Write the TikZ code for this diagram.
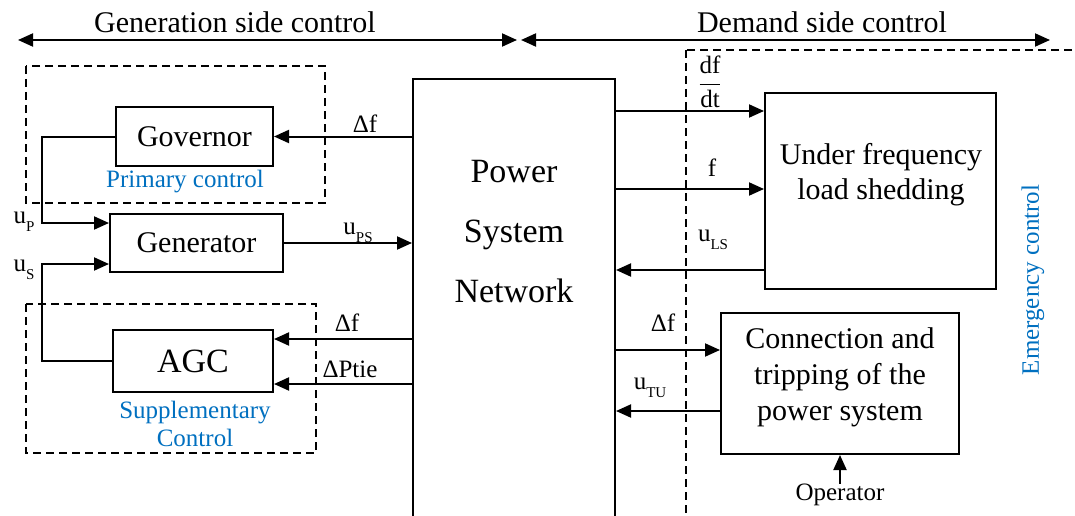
\documentclass[tikz,border=0pt]{standalone}
\usepackage{fontspec}
\setmainfont{Liberation Serif}
\usepackage{amsmath}
\usetikzlibrary{arrows.meta}
\definecolor{ctlblue}{RGB}{0,112,192}
\newcommand\lsub[1]{\raisebox{-0.3em}{\fontsize{15}{15}\selectfont #1}}
\begin{document}
\begin{tikzpicture}[x=1pt,y=-1pt,
  blk/.style={draw,line width=2pt,inner sep=0pt},
  conn/.style={line width=2pt,-{Triangle[length=15pt,width=13pt]}},
  span/.style={line width=2pt,{Triangle[length=15pt,width=13pt]}-{Triangle[length=15pt,width=13pt]}},
  dbox/.style={draw,line width=1.8pt,dash pattern=on 8pt off 5pt},
  lbl/.style={font=\fontsize{25}{30}\selectfont,inner sep=0pt},
  head/.style={font=\fontsize{30}{34}\selectfont,inner sep=0pt},
  big/.style={font=\fontsize{30}{36}\selectfont,align=center,inner sep=0pt},
  bluetxt/.style={text=ctlblue,font=\fontsize{25}{28}\selectfont,align=center,inner sep=0pt}]
\clip (0,0) rectangle (1075,516);
\fill[white] (0,0) rectangle (1075,516);

% top spans
\coordinate (gl) at (18,40);
\coordinate (gr) at (517,40);
\coordinate (dl) at (521,40);
\coordinate (dr) at (1050,40);
\draw[span] (gl) -- (gr);
\draw[span] (dl) -- (dr);
\node[head] (gentitle) at (235,22) {Generation side control};
\node[head] (demtitle) at (822,22) {Demand side control};

% dashed groups
\draw[dbox] (26,66) rectangle (325,203);
\draw[dbox] (26,304) rectangle (316,453);
\draw[dbox] (686,50) rectangle (1110,560);

% blocks
\node[blk,minimum width=157pt,minimum height=59pt,font=\fontsize{30}{34}\selectfont] (gov) at (194.5,136.5) {Governor};
\node[blk,minimum width=173pt,minimum height=58pt,font=\fontsize{30}{34}\selectfont] (gen) at (196.5,243) {Generator};
\node[blk,minimum width=160pt,minimum height=62pt,font=\fontsize{34}{38}\selectfont] (agc) at (193,361) {AGC};
\node[blk,minimum width=202pt,minimum height=481pt] (psn) at (514,319.5) {};
\node[font=\fontsize{34}{60}\selectfont,align=center,inner sep=0pt] (psntxt) at (514,232) {Power\\System\\Network};
\node[blk,minimum width=231pt,minimum height=196pt] (uls) at (880.5,191) {};
\node[big,font=\fontsize{30}{35}\selectfont] (ulstxt) at (881,175) {Under frequency\\load shedding};
\node[blk,minimum width=238pt,minimum height=141pt] (ctps) at (840,383.5) {};
\node[big] (ctpstxt) at (840,377) {Connection and\\tripping of the\\power system};

% group labels
\node[bluetxt] (prim) at (185,182) {Primary control};
\node[bluetxt] (supp) at (195,424) {Supplementary\\Control};
\node[bluetxt,rotate=90] (emc) at (1033,280) {Emergency control};

% left side connectors
\coordinate (jp) at (42,223);
\coordinate (js) at (42,264);
\coordinate (af) at (0,339);
\coordinate (ap) at (0,384);
\draw[conn] (psn.west |- gov.east) -- (gov.east);
\draw[conn] (gov.west) -| (jp) -- (gen.west |- jp);
\draw[conn] (agc.west) -| (js) -- (gen.west |- js);
\draw[conn] (gen.east) -- (psn.west |- gen.east);
\draw[conn] (psn.west |- af) -- (agc.east |- af);
\draw[conn] (psn.west |- ap) -- (agc.east |- ap);

\node[lbl] (l1) at (365,124) {Δf};
\node[lbl] (l2) at (358,233) {u\lsub{PS}};
\node[lbl] (l3) at (24,222) {u\lsub{P}};
\node[lbl] (l4) at (24,270) {u\lsub{S}};
\node[lbl] (l5) at (347,323) {Δf};
\node[lbl] (l6) at (350,369) {ΔPtie};

% right side connectors
\coordinate (r1) at (0,111);
\coordinate (r2) at (0,189);
\coordinate (r3) at (0,270);
\coordinate (r4) at (0,350);
\coordinate (r5) at (0,411);
\draw[conn] (psn.east |- r1) -- (uls.west |- r1);
\draw[conn] (psn.east |- r2) -- (uls.west |- r2);
\draw[conn] (uls.west |- r3) -- (psn.east |- r3);
\draw[conn] (psn.east |- r4) -- (ctps.west |- r4);
\draw[conn] (ctps.west |- r5) -- (psn.east |- r5);

\node[lbl] (l7) at (710,82) {$\dfrac{\text{df}}{\text{dt}}$};
\node[lbl] (l8) at (712,168) {f};
\node[lbl] (l9) at (713,240) {u\lsub{LS}};
\node[lbl] (l10) at (663,323) {Δf};
\node[lbl] (l11) at (650,388) {u\lsub{TU}};

\node[lbl] (op) at (840,495) {Operator};
\draw[conn] (op.north) -- (ctps.south);
\end{tikzpicture}
\end{document}
